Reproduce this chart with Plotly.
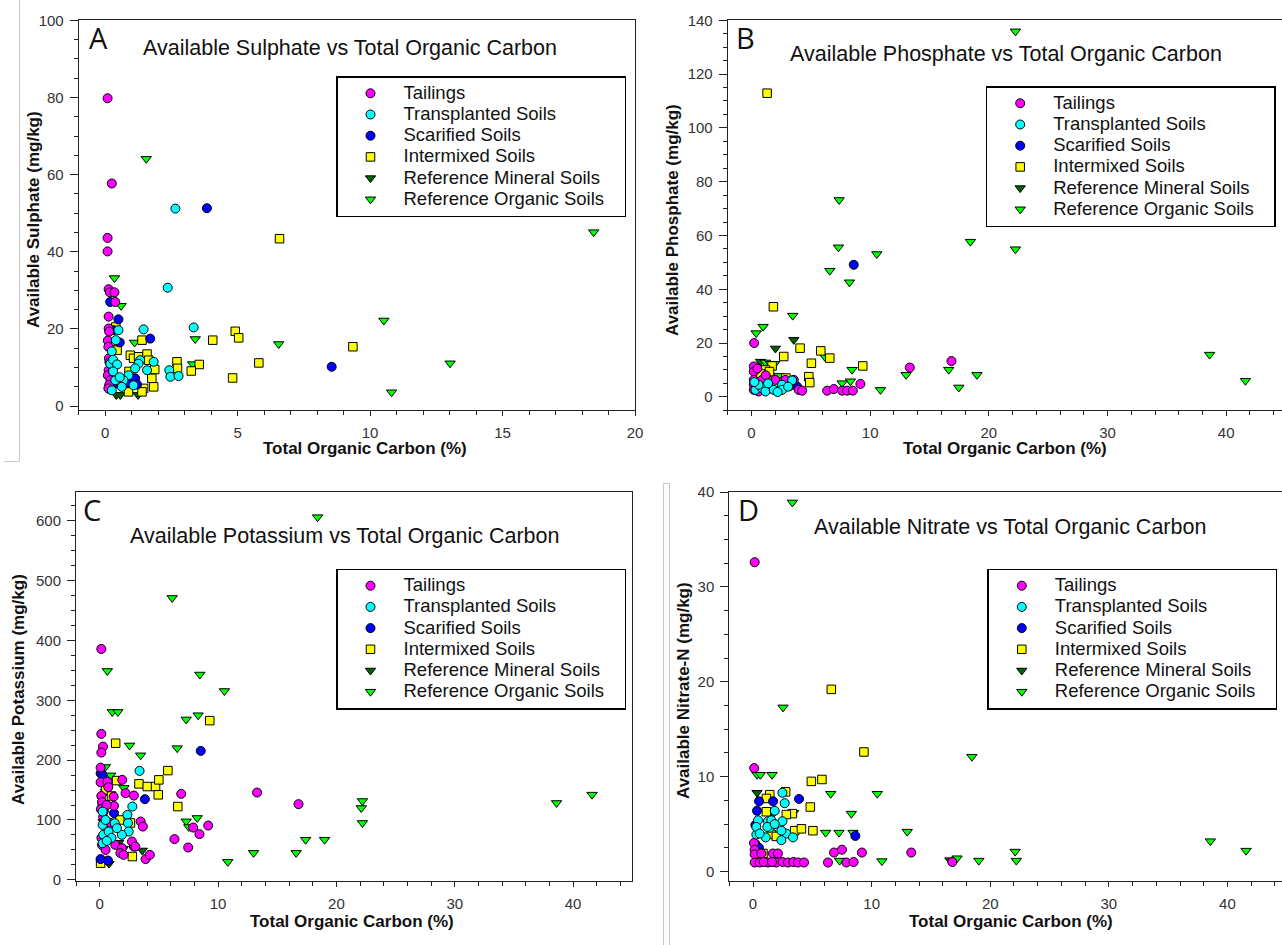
import plotly.graph_objects as go

# ---------------- series definitions ----------------
SERIES = ["Tailings", "Transplanted Soils", "Scarified Soils", "Intermixed Soils",
          "Reference Mineral Soils", "Reference Organic Soils"]
COLORS = ["#FF00FF", "#00FFFF", "#0000FF", "#FFFF00", "#006400", "#00FF00"]
SYMBOLS = ["circle", "circle", "circle", "square", "triangle-down", "triangle-down"]
SIZES = [9, 9, 9, 8.5, 9, 9]

# ---------------- Panel A: Sulphate ----------------
A_TAIL_X = [0.09, 0.25, 0.09, 0.09, 0.13, 0.18, 0.35, 0.38, 0.13, 0.13, 0.15, 0.1, 0.12, 0.14, 0.16, 0.13, 0.1, 0.2, 0.15, 0.12, 0.25]
A_TAIL_Y = [79.8, 57.7, 43.6, 40.1, 30.3, 29.5, 29.5, 27.0, 23.2, 20.1, 19.3, 17.0, 15.4, 12.4, 11.4, 9.3, 8.0, 6.7, 5.5, 4.6, 10.5]
A_TRANS_X = [2.65, 2.36, 1.45, 3.34, 0.5, 0.4, 0.25, 0.19, 0.3, 0.45, 1.32, 1.26, 1.13, 1.58, 1.83, 0.88, 0.69, 1.07, 0.63, 0.25, 0.38, 2.42, 2.46, 2.77, 0.55, 0.3]
A_TRANS_Y = [51.2, 30.7, 19.9, 20.4, 19.7, 17.1, 14.2, 11.0, 12.0, 10.8, 11.9, 11.0, 9.8, 9.3, 11.5, 8.0, 6.7, 5.4, 5.0, 4.1, 6.7, 9.3, 7.6, 7.8, 7.5, 9.0]
A_SCAR_X = [3.84, 8.55, 0.19, 0.5, 0.31, 1.7, 0.55, 1.13, 1.2, 0.15, 0.3, 0.9]
A_SCAR_Y = [51.3, 10.2, 27.0, 22.5, 19.7, 17.5, 16.5, 7.2, 5.6, 4.5, 5.5, 6.0]
A_INTER_X = [6.58, 4.91, 5.04, 4.06, 5.8, 4.81, 3.55, 3.25, 9.35, 1.39, 0.95, 1.07, 1.26, 1.58, 1.64, 1.87, 1.76, 1.83, 1.45, 1.39, 0.88, 2.71, 2.73, 0.4, 0.45, 0.9]
A_INTER_Y = [43.4, 19.4, 17.7, 17.1, 11.2, 7.3, 10.8, 9.1, 15.4, 17.1, 13.2, 12.4, 12.8, 13.5, 11.9, 9.5, 7.2, 5.0, 4.6, 3.7, 3.7, 11.5, 9.8, 20.5, 14.5, 9.0]
A_REFMIN_X = [0.38, 0.42, 0.57, 1.24]
A_REFMIN_Y = [15.0, 2.9, 2.9, 2.9]
A_REFORG_X = [0.35, 0.6, 1.55, 1.11, 3.4, 3.3, 6.55, 10.52, 13.02, 10.81, 18.44]
A_REFORG_Y = [33.2, 26.0, 64.1, 16.5, 17.4, 10.9, 16.1, 22.2, 11.1, 3.6, 45.1]

# ---------------- Panel B: Phosphate ----------------
B_TAIL_X = [0.23, 0.2, 0.2, 0.2, 0.2, 0.2, 0.9, 2.02, 2.86, 3.57, 3.98, 4.27, 9.18, 6.38, 6.94, 7.64, 8.06, 8.54, 13.34, 16.85, 0.6, 1.5, 2.4, 3.2, 1.2, 0.5]
B_TAIL_Y = [20.0, 11.3, 9.4, 6.3, 4.5, 2.6, 6.3, 6.3, 6.3, 6.3, 2.6, 2.3, 4.8, 2.3, 2.9, 2.3, 2.3, 2.3, 10.9, 13.3, 2.0, 3.0, 2.5, 4.0, 8.0, 10.5]
B_TRANS_X = [0.34, 0.9, 1.18, 1.88, 2.58, 2.58, 3.43, 3.09, 0.6, 1.4, 2.2, 0.25]
B_TRANS_Y = [2.6, 3.2, 2.0, 2.6, 4.5, 2.6, 6.1, 3.8, 4.5, 5.0, 1.8, 5.5]
B_SCAR_X = [8.62, 3.85, 0.3]
B_SCAR_Y = [49.1, 3.8, 3.0]
B_INTER_X = [1.32, 1.85, 4.1, 2.72, 5.84, 6.6, 5.05, 9.38, 4.83, 4.91, 1.74, 1.18, 1.52, 0.8, 1.3, 2.9, 3.3]
B_INTER_Y = [112.9, 33.5, 18.1, 15.0, 17.1, 14.4, 12.5, 11.5, 7.5, 5.3, 11.5, 10.0, 9.4, 8.5, 6.0, 7.0, 5.5]
B_REFMIN_X = [3.57, 2.02, 0.76, 0.9, 1.5]
B_REFMIN_Y = [21.2, 18.0, 13.1, 7.3, 4.8]
B_REFORG_X = [7.39, 7.33, 6.6, 8.26, 10.56, 3.48, 0.98, 0.4, 6.18, 8.48, 8.34, 7.64, 10.87, 13.03, 16.62, 17.47, 18.45, 22.24, 22.24, 38.6, 41.62, 19.0, 1.18, 1.6, 1.96, 2.3]
B_REFORG_Y = [73.2, 55.6, 46.9, 42.6, 53.1, 30.2, 26.1, 23.7, 14.9, 10.1, 5.8, 5.1, 2.6, 8.2, 10.1, 3.5, 57.7, 135.9, 54.9, 15.7, 6.0, 8.2, 12.8, 12.3, 12.3, 7.8]

# ---------------- Panel C: Potassium ----------------
C_TAIL_X = [0.14, 0.14, 0.28, 0.14, 0.08, 0.08, 0.65, 0.73, 1.91, 2.19, 2.89, 1.21, 0.23, 1.18, 3.46, 3.65, 7.9, 9.17, 8.43, 6.32, 7.48, 6.89, 13.3, 16.8, 2.89, 3.88, 4.24, 1.32, 1.88, 2.73, 3.01, 1.75, 2.02, 0.14, 0.2, 0.1, 0.3, 0.15, 0.2, 0.5, 0.35, 0.6, 0.9]
C_TAIL_Y = [385.7, 243.8, 222.6, 212.6, 187.5, 163.0, 164.0, 154.8, 167.0, 144.8, 140.8, 123.5, 125.2, 139.0, 97.4, 89.0, 87.3, 90.7, 76.3, 68.0, 54.0, 143.6, 145.8, 126.4, 55.6, 34.6, 41.7, 58.4, 52.9, 63.9, 55.6, 44.6, 41.7, 140.0, 130.0, 118.0, 105.0, 70.0, 58.0, 50.0, 115.0, 125.0, 95.0]
C_TRANS_X = [3.37, 2.76, 2.34, 2.39, 2.45, 0.25, 0.25, 0.3, 0.25, 1.27, 0.76, 1.88, 1.46, 0.5, 1.0, 0.6]
C_TRANS_Y = [182.0, 122.4, 108.5, 94.7, 80.7, 114.0, 91.8, 75.1, 61.2, 94.7, 80.7, 75.1, 86.3, 100.0, 70.0, 65.0]
C_SCAR_X = [8.54, 0.08, 3.82, 1.21, 0.08, 0.7, 0.25, 0.6]
C_SCAR_Y = [215.4, 178.0, 134.7, 111.4, 34.6, 32.2, 175.0, 75.0]
C_INTER_X = [9.3, 1.35, 5.76, 1.43, 3.32, 4.02, 4.72, 4.95, 5.0, 6.6, 2.76, 0.08, 1.7, 2.6, 0.5, 1.0]
C_INTER_Y = [266.0, 228.2, 182.5, 165.8, 160.3, 155.8, 155.8, 142.0, 167.0, 122.4, 38.9, 27.8, 100.0, 95.0, 150.0, 140.0]
C_REFMIN_X = [3.6, 0.79, 0.5, 1.6, 2.0, 0.3]
C_REFMIN_Y = [49.0, 27.0, 147.0, 62.0, 52.0, 97.0]
C_REFORG_X = [18.41, 6.13, 0.65, 8.46, 10.54, 1.07, 1.54, 7.31, 8.32, 2.53, 6.55, 3.46, 0.93, 2.05, 7.31, 7.53, 8.24, 17.4, 19.0, 13.0, 16.6, 10.82, 22.2, 22.1, 22.2, 38.6, 41.6, 0.48]
C_REFORG_Y = [606.0, 471.0, 349.0, 343.0, 315.5, 280.5, 280.5, 268.0, 275.0, 224.5, 220.0, 208.0, 174.5, 153.5, 97.7, 88.3, 103.3, 67.0, 67.0, 45.0, 45.0, 30.0, 131.7, 120.0, 95.0, 128.4, 142.3, 188.5]

# ---------------- Panel D: Nitrate ----------------
D_TAIL_X = [0.14, 0.1, 0.08, 0.14, 0.14, 0.7, 1.68, 2.1, 6.83, 7.5, 9.18, 13.34, 0.14, 0.56, 1.26, 1.97, 2.5, 2.95, 3.4, 3.79, 4.3, 6.32, 7.87, 8.48, 16.8, 0.9, 1.6]
D_TAIL_Y = [32.6, 10.9, 3.0, 2.3, 1.8, 1.9, 1.9, 1.9, 2.0, 2.3, 2.0, 2.0, 0.95, 0.95, 0.95, 0.95, 1.0, 0.95, 1.0, 0.95, 0.95, 0.95, 0.95, 1.0, 1.0, 1.0, 1.0]
D_TRANS_X = [2.48, 2.67, 1.83, 0.42, 1.26, 1.55, 2.48, 1.41, 2.81, 3.37, 0.28, 1.07, 2.39, 1.21, 1.83, 0.28, 0.56, 2.39]
D_TRANS_Y = [8.3, 7.2, 6.4, 5.4, 5.3, 5.4, 5.3, 4.6, 4.0, 3.6, 3.9, 3.6, 3.3, 4.7, 5.0, 4.7, 4.0, 4.3]
D_SCAR_X = [0.51, 1.69, 3.88, 0.34, 8.63, 0.2, 0.2, 0.5]
D_SCAR_Y = [7.4, 7.4, 7.65, 6.4, 3.75, 4.9, 2.9, 2.5]
D_INTER_X = [6.6, 9.35, 4.92, 5.81, 2.75, 1.41, 1.13, 4.83, 3.32, 1.13, 3.51, 4.08, 5.05, 1.55, 1.97, 0.84, 2.81]
D_INTER_Y = [19.2, 12.6, 9.5, 9.7, 8.4, 8.1, 7.7, 6.8, 6.1, 6.3, 4.3, 4.5, 4.3, 3.9, 3.7, 1.9, 6.0]
D_REFMIN_X = [0.34, 16.6, 1.7]
D_REFMIN_Y = [8.3, 1.2, 6.1]
D_REFORG_X = [3.32, 2.53, 0.34, 0.62, 1.6, 6.55, 10.48, 3.43, 8.29, 6.12, 7.25, 8.43, 13.0, 7.3, 10.87, 17.2, 18.45, 19.04, 22.1, 22.2, 38.56, 41.57]
D_REFORG_Y = [38.9, 17.3, 10.2, 10.2, 10.2, 8.2, 8.2, 6.2, 6.1, 4.1, 4.1, 4.1, 4.2, 1.15, 1.1, 1.4, 12.1, 1.15, 2.1, 1.15, 3.2, 2.2]

PANELS = [
    dict(key="A", xs=[A_TAIL_X, A_TRANS_X, A_SCAR_X, A_INTER_X, A_REFMIN_X, A_REFORG_X],
         ys=[A_TAIL_Y, A_TRANS_Y, A_SCAR_Y, A_INTER_Y, A_REFMIN_Y, A_REFORG_Y]),
    dict(key="B", xs=[B_TAIL_X, B_TRANS_X, B_SCAR_X, B_INTER_X, B_REFMIN_X, B_REFORG_X],
         ys=[B_TAIL_Y, B_TRANS_Y, B_SCAR_Y, B_INTER_Y, B_REFMIN_Y, B_REFORG_Y]),
    dict(key="C", xs=[C_TAIL_X, C_TRANS_X, C_SCAR_X, C_INTER_X, C_REFMIN_X, C_REFORG_X],
         ys=[C_TAIL_Y, C_TRANS_Y, C_SCAR_Y, C_INTER_Y, C_REFMIN_Y, C_REFORG_Y]),
    dict(key="D", xs=[D_TAIL_X, D_TRANS_X, D_SCAR_X, D_INTER_X, D_REFMIN_X, D_REFORG_X],
         ys=[D_TAIL_Y, D_TRANS_Y, D_SCAR_Y, D_INTER_Y, D_REFMIN_Y, D_REFORG_Y]),
]

TITLES = ["Available Sulphate vs Total Organic Carbon",
          "Available Phosphate vs Total Organic Carbon",
          "Available Potassium vs Total Organic Carbon",
          "Available Nitrate vs Total Organic Carbon"]
YTITLES = ["Available Sulphate (mg/kg)", "Available Phosphate (mg/kg)",
           "Available Potassium (mg/kg)", "Available Nitrate-N (mg/kg)"]
XTITLE = "Total Organic Carbon (%)"

W, H = 1282, 945
FONT = "Liberation Sans, Arial, sans-serif"

# layout geometry (pixels)
GEOM = {
    "A": dict(x0=78.7, x1=635.0, y0=20.3, y1=410.0, xr=[-1, 20], yr=[-1, 100],
              xd=5, xm=1, yd=20, ym=5),
    "B": dict(x0=727.7, x1=1282.0, y0=20.3, y1=410.3, xr=[-2, 44.7], yr=[-5, 140],
              xd=10, xm=2, yd=20, ym=5),
    "C": dict(x0=76.0, x1=632.3, y0=492.0, y1=881.0, xr=[-2, 45], yr=[-2, 648],
              xd=10, xm=2, yd=100, ym=25),
    "D": dict(x0=729.3, x1=1282.0, y0=492.0, y1=881.0, xr=[-2, 44.6], yr=[-1, 40],
              xd=10, xm=2, yd=10, ym=2.5),
}

def px(x):
    return x / W

def py(y):
    return 1 - y / H

def legend_label(text):
    return '<span style="font-size:18.5px">' + text + '</span>'

fig = go.Figure()
DRAW_ORDER = [4, 5, 3, 2, 0, 1]

for p_i, panel in enumerate(PANELS):
    sfx = "" if p_i == 0 else str(p_i + 1)
    leg = "legend" if p_i == 0 else "legend" + str(p_i + 1)
    for s in DRAW_ORDER:
        label = SERIES[s] + ("\u00a0\u00a0\u00a0" if s == 5 else "")
        fig.add_trace(go.Scatter(
            x=panel["xs"][s], y=panel["ys"][s], mode="markers", name=legend_label(label),
            hovertext=SERIES[s], hoverinfo="x+y+text",
            xaxis="x" + sfx, yaxis="y" + sfx, legend=leg, legendrank=s + 1,
            marker=dict(symbol=SYMBOLS[s], color=COLORS[s], size=SIZES[s],
                        line=dict(color="black", width=1)),
            showlegend=True))

layout = dict(width=W, height=H, margin=dict(l=0, r=0, t=0, b=0, autoexpand=False),
              paper_bgcolor="white", plot_bgcolor="white", showlegend=True)

for p_i, key in enumerate(["A", "B", "C", "D"]):
    g = GEOM[key]
    sfx = "" if p_i == 0 else str(p_i + 1)
    common = dict(showline=True, linecolor="#222", linewidth=1, mirror=True,
                  ticks="outside", tickcolor="#222", showgrid=False, zeroline=False,
                  automargin=False,
                  tickfont=dict(family=FONT, size=15, color="#333"), tick0=0)
    layout["xaxis" + sfx] = dict(common, domain=[px(g["x0"]), px(g["x1"])], range=g["xr"],
                                 dtick=g["xd"], ticklen=5, anchor="y" + sfx,
                                 ticklabelstandoff=4,
                                 minor=dict(dtick=g["xm"], tick0=0, ticks="outside", ticklen=4,
                                            tickcolor="#222", showgrid=False))
    layout["yaxis" + sfx] = dict(common, domain=[py(g["y1"]), py(g["y0"])], range=g["yr"],
                                 dtick=g["yd"], ticklen=8, anchor="x" + sfx,
                                 ticklabelstandoff=3,
                                 minor=dict(dtick=g["ym"], tick0=0, ticks="outside", ticklen=4,
                                            tickcolor="#222", showgrid=False))

# legend top edges chosen so that the first entry lands on the reference row
LEG_POS = {"A": (336, 76.2), "B": (985.7, 86.2), "C": (336, 568.6), "D": (987.3, 568.6)}
for p_i, key in enumerate(["A", "B", "C", "D"]):
    name = "legend" if p_i == 0 else "legend" + str(p_i + 1)
    lx, ly = LEG_POS[key]
    layout[name] = dict(x=px(lx), y=py(ly), xanchor="left", yanchor="top",
                        bgcolor="white", bordercolor="black", borderwidth=1.5,
                        font=dict(family=FONT, size=14, color="#111"),
                        itemwidth=56, tracegroupgap=0, traceorder="normal")

ann = []
TITLE_POS = [(350, 48), (1005.5, 54), (344.7, 535.7), (1010.4, 526.7)]
LETTER_POS = [(98, 37), (745, 37), (92, 509), (748, 509)]
YT_POS = [(33, 220), (672, 220), (18, 690), (683, 691)]
XT_POS = [(365, 448), (1005, 448), (352, 921), (1011, 921)]
for i, key in enumerate(["A", "B", "C", "D"]):
    tx, ty = TITLE_POS[i]
    ann.append(dict(x=px(tx), y=py(ty), xref="paper", yref="paper", text=TITLES[i],
                    showarrow=False, xanchor="center", yanchor="middle",
                    font=dict(family=FONT, size=21.5, color="#111")))
    lx, ly = LETTER_POS[i]
    ann.append(dict(x=px(lx), y=py(ly), xref="paper", yref="paper", text=key,
                    showarrow=False, xanchor="center", yanchor="middle",
                    font=dict(family="Open Sans, Liberation Sans, sans-serif", size=29, color="#111")))
    yx, yy = YT_POS[i]
    ann.append(dict(x=px(yx), y=py(yy), xref="paper", yref="paper", text="<b>" + YTITLES[i] + "</b>",
                    showarrow=False, xanchor="center", yanchor="middle", textangle=-90,
                    font=dict(family=FONT, size=17, color="#111")))
    xx, xy = XT_POS[i]
    ann.append(dict(x=px(xx), y=py(xy), xref="paper", yref="paper", text="<b>" + XTITLE + "</b>",
                    showarrow=False, xanchor="center", yanchor="middle",
                    font=dict(family=FONT, size=17, color="#111")))
layout["annotations"] = ann

GRAY = "#c8c8c8"
layout["shapes"] = [
    dict(type="line", xref="paper", yref="paper", x0=px(19.5), x1=px(19.5), y0=py(0), y1=py(461.5),
         line=dict(color=GRAY, width=1)),
    dict(type="line", xref="paper", yref="paper", x0=px(4), x1=px(19.5), y0=py(461.5), y1=py(461.5),
         line=dict(color=GRAY, width=1)),
    dict(type="line", xref="paper", yref="paper", x0=px(663.5), x1=px(663.5), y0=py(483.5), y1=py(945),
         line=dict(color=GRAY, width=1)),
    dict(type="line", xref="paper", yref="paper", x0=px(669.5), x1=px(669.5), y0=py(483.5), y1=py(945),
         line=dict(color=GRAY, width=1)),
    dict(type="line", xref="paper", yref="paper", x0=px(663.5), x1=px(669.5), y0=py(483.5), y1=py(483.5),
         line=dict(color=GRAY, width=1)),
]

fig.update_layout(layout)
fig.write_html("out.html")
